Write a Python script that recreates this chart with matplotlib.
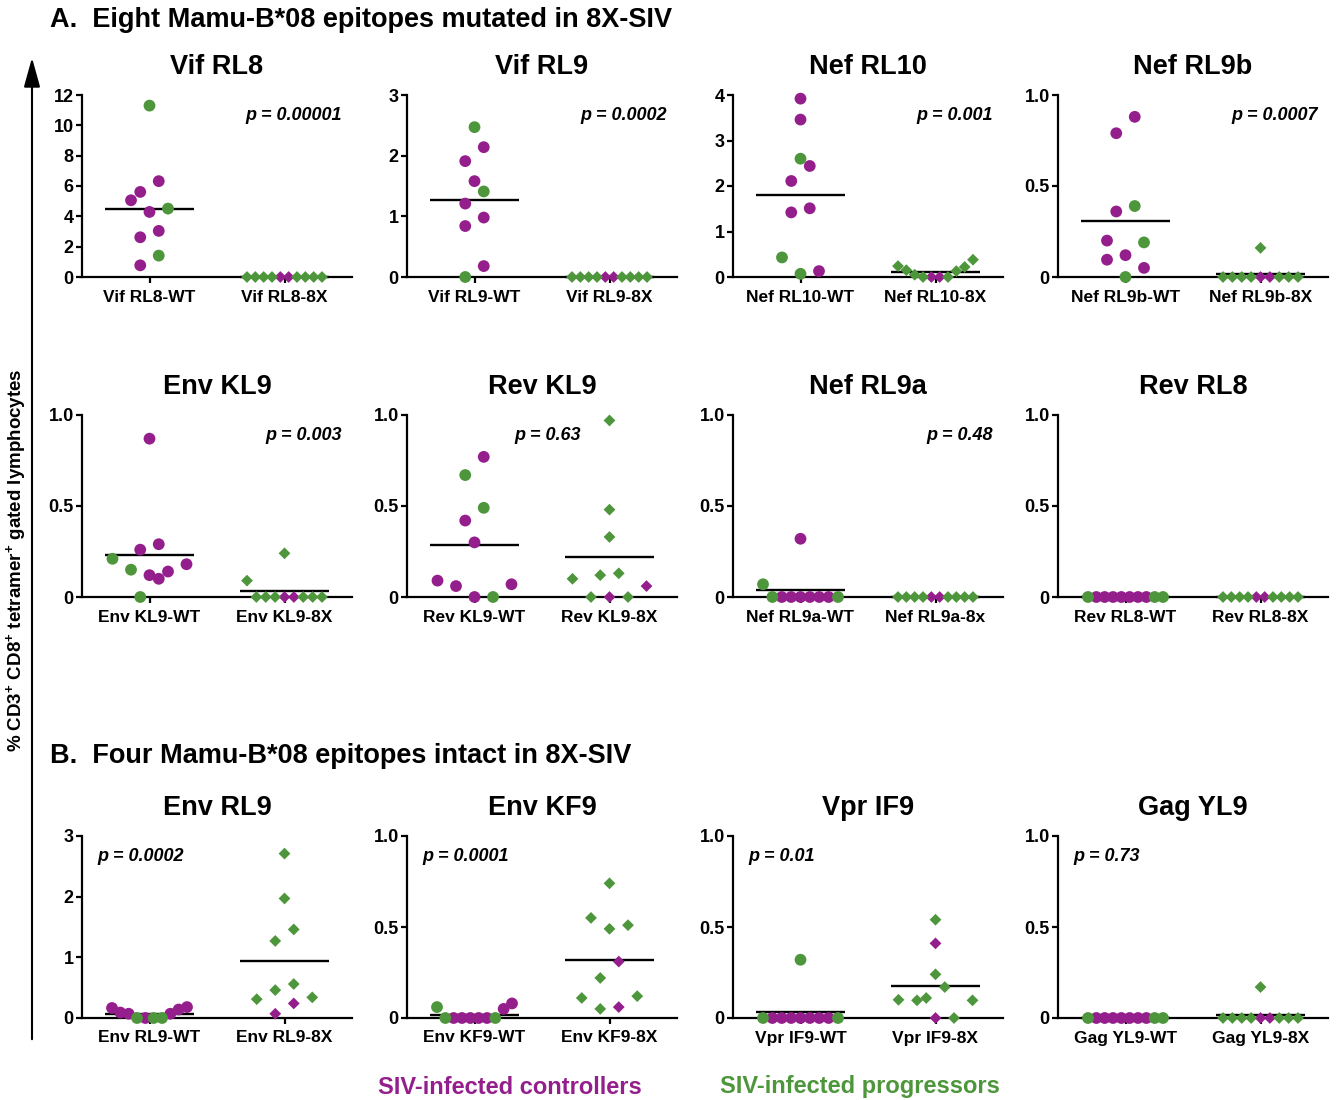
import matplotlib
matplotlib.use('Agg')
import matplotlib.pyplot as plt
from matplotlib.patches import FancyArrowPatch
import numpy as np

plt.rcParams['font.family'] = ['Liberation Sans', 'DejaVu Sans']
plt.rcParams['font.weight'] = 'bold'
plt.rcParams['mathtext.fontset'] = 'custom'
plt.rcParams['mathtext.rm'] = 'Liberation Sans:bold'
plt.rcParams['mathtext.bf'] = 'Liberation Sans:bold'
plt.rcParams['mathtext.it'] = 'Liberation Sans:bold:italic'
plt.rcParams['mathtext.default'] = 'bf'

MAGENTA = '#941F8C'
GREEN = '#4D963B'

# ---------------- data ----------------
titles = ['Vif RL8', 'Vif RL9', 'Nef RL10', 'Nef RL9b',
          'Env KL9', 'Rev KL9', 'Nef RL9a', 'Rev RL8',
          'Env RL9', 'Env KF9', 'Vpr IF9', 'Gag YL9']
wt_labels = ['Vif RL8-WT', 'Vif RL9-WT', 'Nef RL10-WT', 'Nef RL9b-WT',
             'Env KL9-WT', 'Rev KL9-WT', 'Nef RL9a-WT', 'Rev RL8-WT',
             'Env RL9-WT', 'Env KF9-WT', 'Vpr IF9-WT', 'Gag YL9-WT']
x8_labels = ['Vif RL8-8X', 'Vif RL9-8X', 'Nef RL10-8X', 'Nef RL9b-8X',
             'Env KL9-8X', 'Rev KL9-8X', 'Nef RL9a-8x', 'Rev RL8-8X',
             'Env RL9-8X', 'Env KF9-8X', 'Vpr IF9-8X', 'Gag YL9-8X']
y_max = [12, 3, 4, 1, 1, 1, 1, 1, 3, 1, 1, 1]
y_ticks = [[0, 2, 4, 6, 8, 10, 12], [0, 1, 2, 3], [0, 1, 2, 3, 4], [0, 0.5, 1.0],
           [0, 0.5, 1.0], [0, 0.5, 1.0], [0, 0.5, 1.0], [0, 0.5, 1.0],
           [0, 1, 2, 3], [0, 0.5, 1.0], [0, 0.5, 1.0], [0, 0.5, 1.0]]
p_texts = ['p = 0.00001', 'p = 0.0002', 'p = 0.001', 'p = 0.0007',
           'p = 0.003', 'p = 0.63', 'p = 0.48', '',
           'p = 0.0002', 'p = 0.0001', 'p = 0.01', 'p = 0.73']
p_align = ['right', 'right', 'right', 'right',
           'right', 'center', 'right', 'right',
           'left', 'left', 'left', 'left']

vif_rl8_wt_ctrl = [6.32, 5.61, 5.06, 4.29, 3.04, 2.62, 0.77]
vif_rl8_wt_prog = [11.3, 4.51, 1.41]
vif_rl8_8x_ctrl = [0, 0]
vif_rl8_8x_prog = [0, 0, 0, 0, 0, 0, 0, 0]

vif_rl9_wt_ctrl = [2.14, 1.91, 1.58, 1.21, 0.98, 0.84, 0.18]
vif_rl9_wt_prog = [2.47, 1.41, 0]
vif_rl9_8x_ctrl = [0, 0]
vif_rl9_8x_prog = [0, 0, 0, 0, 0, 0, 0, 0]

nef_rl10_wt_ctrl = [3.92, 3.46, 2.44, 2.11, 1.51, 1.42, 0.13]
nef_rl10_wt_prog = [2.60, 0.43, 0.07]
nef_rl10_8x_ctrl = [0, 0]
nef_rl10_8x_prog = [0.15, 0.05, 0.24, 0.13, 0.22, 0.38, 0, 0]

nef_rl9b_wt_ctrl = [0.88, 0.79, 0.36, 0.20, 0.12, 0.095, 0.05]
nef_rl9b_wt_prog = [0.39, 0.19, 0]
nef_rl9b_8x_ctrl = [0, 0]
nef_rl9b_8x_prog = [0.16, 0, 0, 0, 0, 0, 0, 0]

env_kl9_wt_ctrl = [0.87, 0.29, 0.26, 0.18, 0.14, 0.12, 0.10]
env_kl9_wt_prog = [0.21, 0.15, 0]
env_kl9_8x_ctrl = [0, 0]
env_kl9_8x_prog = [0.24, 0.09, 0, 0, 0, 0, 0, 0]

rev_kl9_wt_ctrl = [0.77, 0.42, 0.30, 0.09, 0.07, 0.06, 0]
rev_kl9_wt_prog = [0.67, 0.49, 0]
rev_kl9_8x_ctrl = [0.06, 0]
rev_kl9_8x_prog = [0.97, 0.48, 0.33, 0.13, 0.12, 0.10, 0, 0]

nef_rl9a_wt_ctrl = [0.32, 0, 0, 0, 0, 0, 0]
nef_rl9a_wt_prog = [0.07, 0, 0]
nef_rl9a_8x_ctrl = [0, 0]
nef_rl9a_8x_prog = [0, 0, 0, 0, 0, 0, 0, 0]

rev_rl8_wt_ctrl = [0, 0, 0, 0, 0, 0, 0]
rev_rl8_wt_prog = [0, 0, 0]
rev_rl8_8x_ctrl = [0, 0]
rev_rl8_8x_prog = [0, 0, 0, 0, 0, 0, 0, 0]

env_rl9_wt_ctrl = [0.18, 0.165, 0.14, 0.09, 0.07, 0.07, 0]
env_rl9_wt_prog = [0, 0, 0]
env_rl9_8x_ctrl = [0.24, 0.07]
env_rl9_8x_prog = [2.71, 1.97, 1.46, 1.27, 0.56, 0.46, 0.34, 0.31]

env_kf9_wt_ctrl = [0.08, 0.05, 0, 0, 0, 0, 0]
env_kf9_wt_prog = [0.06, 0, 0]
env_kf9_8x_ctrl = [0.31, 0.06]
env_kf9_8x_prog = [0.74, 0.55, 0.51, 0.49, 0.22, 0.12, 0.11, 0.05]

vpr_if9_wt_ctrl = [0, 0, 0, 0, 0, 0, 0]
vpr_if9_wt_prog = [0.32, 0, 0]
vpr_if9_8x_ctrl = [0.41, 0]
vpr_if9_8x_prog = [0.54, 0.24, 0.17, 0.11, 0.10, 0.097, 0.097, 0]

gag_yl9_wt_ctrl = [0, 0, 0, 0, 0, 0, 0]
gag_yl9_wt_prog = [0, 0, 0]
gag_yl9_8x_ctrl = [0, 0]
gag_yl9_8x_prog = [0.17, 0, 0, 0, 0, 0, 0, 0]

wt_ctrl = [vif_rl8_wt_ctrl, vif_rl9_wt_ctrl, nef_rl10_wt_ctrl, nef_rl9b_wt_ctrl,
           env_kl9_wt_ctrl, rev_kl9_wt_ctrl, nef_rl9a_wt_ctrl, rev_rl8_wt_ctrl,
           env_rl9_wt_ctrl, env_kf9_wt_ctrl, vpr_if9_wt_ctrl, gag_yl9_wt_ctrl]
wt_prog = [vif_rl8_wt_prog, vif_rl9_wt_prog, nef_rl10_wt_prog, nef_rl9b_wt_prog,
           env_kl9_wt_prog, rev_kl9_wt_prog, nef_rl9a_wt_prog, rev_rl8_wt_prog,
           env_rl9_wt_prog, env_kf9_wt_prog, vpr_if9_wt_prog, gag_yl9_wt_prog]
x8_ctrl = [vif_rl8_8x_ctrl, vif_rl9_8x_ctrl, nef_rl10_8x_ctrl, nef_rl9b_8x_ctrl,
           env_kl9_8x_ctrl, rev_kl9_8x_ctrl, nef_rl9a_8x_ctrl, rev_rl8_8x_ctrl,
           env_rl9_8x_ctrl, env_kf9_8x_ctrl, vpr_if9_8x_ctrl, gag_yl9_8x_ctrl]
x8_prog = [vif_rl8_8x_prog, vif_rl9_8x_prog, nef_rl10_8x_prog, nef_rl9b_8x_prog,
           env_kl9_8x_prog, rev_kl9_8x_prog, nef_rl9a_8x_prog, rev_rl8_8x_prog,
           env_rl9_8x_prog, env_kf9_8x_prog, vpr_if9_8x_prog, gag_yl9_8x_prog]

# ---------------- layout ----------------
W, H = 1342, 1100
AX_W, AX_H = 270, 182
lefts = [82, 407, 733, 1058]
tops = [95, 415, 836]


def swarm_offsets(vals, ymax, thresh=19.0, max_sp=18.5, max_w=75.0):
    """Row-based dot-plot spreading (in pixel space) -> data x offsets."""
    vals = np.asarray(vals, float)
    px = vals / ymax * AX_H
    order = np.argsort(vals, kind='stable')
    rows, cur = [], []
    for i in order:
        if cur and px[i] - px[cur[0]] >= thresh:
            rows.append(cur)
            cur = []
        cur.append(i)
    if cur:
        rows.append(cur)
    offs = np.zeros(len(vals))
    for row in rows:
        n = len(row)
        if n == 1:
            continue
        sp = min(max_sp, max_w / (n - 1))
        if n % 2:
            slots = [0] + [s for k in range(1, n // 2 + 1) for s in (k, -k)]
        else:
            slots = [s for k in range(n // 2) for s in (-(k + 0.5), k + 0.5)]
        for idx, s in zip(row, slots):
            offs[idx] = s * sp * 2.0 / AX_W
    return offs


fig = plt.figure(figsize=(W / 100, H / 100), dpi=100)

for i in range(12):
    r, c = divmod(i, 4)
    left, top = lefts[c], tops[r]
    ax = fig.add_axes([left / W, 1 - (top + AX_H) / H, AX_W / W, AX_H / H])
    ymax = y_max[i]
    groups = [(0, wt_ctrl[i], wt_prog[i], 'o', 72),
              (1, x8_ctrl[i], x8_prog[i], 'D', 36)]
    for xpos, ctrl, prog, mk, sz in groups:
        vals = list(ctrl) + list(prog)
        cols = [MAGENTA] * len(ctrl) + [GREEN] * len(prog)
        offs = swarm_offsets(vals, ymax)
        ax.scatter(xpos + offs, vals, c=cols, marker=mk, s=sz, linewidths=0,
                   zorder=3, clip_on=False)
        m = np.mean(vals)
        ax.plot([xpos - 0.33, xpos + 0.33], [m, m], color='black', lw=1.7,
                zorder=2, clip_on=False, solid_capstyle='butt')
    ax.set_xlim(-0.5, 1.5)
    ax.set_ylim(0, ymax)
    ax.set_xticks([0, 1])
    ax.set_xticklabels([wt_labels[i], x8_labels[i]], fontsize=12.5, fontweight='bold')
    ax.set_yticks(y_ticks[i])
    if ymax == 1:
        ylabels = ['0', '0.5', '1.0']
    else:
        ylabels = [str(int(t)) for t in y_ticks[i]]
    ax.set_yticklabels(ylabels, fontsize=13, fontweight='bold')
    for s in ['top', 'right']:
        ax.spines[s].set_visible(False)
    for s in ['left', 'bottom']:
        ax.spines[s].set_linewidth(1.6)
    ax.tick_params(axis='both', direction='out', length=4, width=1.6, pad=2)
    ax.tick_params(axis='x', pad=5)
    ax.set_facecolor('none')
    ax.text(0.5, 1 + 28 / AX_H, titles[i], transform=ax.transAxes, ha='center',
            va='center', fontsize=19.5, fontweight='bold')
    if p_texts[i]:
        px_ = {'right': 0.963, 'center': 0.52, 'left': 0.058}[p_align[i]]
        ax.text(px_, 0.89, p_texts[i], transform=ax.transAxes, ha=p_align[i],
                va='center', fontsize=13, fontweight='bold', fontstyle='italic')

# section headers
fig.text(50 / W, 1 - 20 / H, 'A.  Eight Mamu-B*08 epitopes mutated in 8X-SIV',
         fontsize=19.5, fontweight='bold', ha='left', va='center')
fig.text(50 / W, 1 - 756 / H, 'B.  Four Mamu-B*08 epitopes intact in 8X-SIV',
         fontsize=19.5, fontweight='bold', ha='left', va='center')

# y label and arrow
fig.text(16 / W, 1 - 560 / H,
         r'% CD3$^{+}$ CD8$^{+}$ tetramer$^{+}$ gated lymphocytes',
         rotation=90, ha='center', va='center', fontsize=13.5, fontweight='bold')
arrow = FancyArrowPatch((32 / W, 1 - 1042 / H), (32 / W, 1 - 55 / H),
                        transform=fig.transFigure,
                        arrowstyle='-|>,head_length=1.8,head_width=0.5',
                        mutation_scale=10, lw=1.5, color='black')
fig.add_artist(arrow)

# legend texts
fig.text(510 / W, 1 - 1087 / H, 'SIV-infected controllers', color=MAGENTA,
         fontsize=17, fontweight='bold', ha='center', va='center')
fig.text(860 / W, 1 - 1087 / H, 'SIV-infected progressors', color=GREEN,
         fontsize=17, fontweight='bold', ha='center', va='center')

fig.savefig('out.png', dpi=100)
